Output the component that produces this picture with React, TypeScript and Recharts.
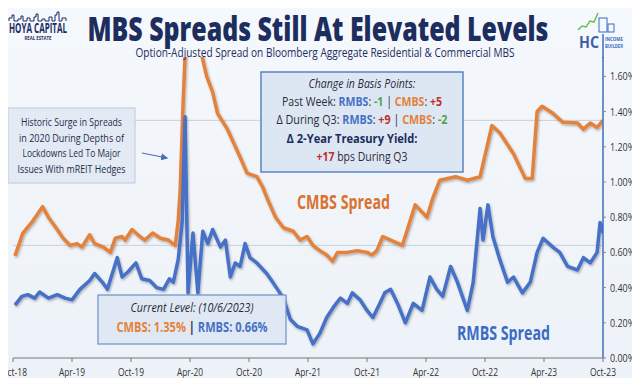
import React from 'react';
import { LineChart, Line, XAxis, YAxis, ReferenceLine } from 'recharts';

// months since Oct-2018 (fractional) and OAS in %
const cmbsMonths = [0.2, 1.0, 1.9, 3.0, 3.6, 4.5, 5.1, 5.8, 6.5, 7.0, 7.8, 8.3, 9.2, 9.9, 10.4, 11.1, 11.4, 12.1, 12.7, 13.4, 14.2, 15.0, 15.8, 16.5, 16.8, 17.0, 17.3, 17.6, 18.0, 18.6, 19.2, 19.7, 20.3, 20.8, 21.8, 23.1, 23.8, 24.8, 25.4, 25.9, 26.7, 27.5, 28.5, 29.2, 29.9, 30.5, 31.2, 31.9, 32.5, 33.0, 34.0, 35.0, 36.0, 36.5, 37.0, 37.6, 38.4, 39.2, 39.6, 40.9, 42.1, 42.7, 43.4, 45.0, 46.2, 47.5, 48.7, 49.5, 50.9, 52.1, 52.8, 53.3, 53.8, 54.9, 55.9, 57.4, 58.0, 58.7, 59.4, 60.0];
const cmbsValues = [0.58, 0.71, 0.77, 0.86, 0.8, 0.73, 0.68, 0.64, 0.65, 0.63, 0.7, 0.65, 0.63, 0.6, 0.68, 0.69, 0.67, 0.73, 0.7, 0.67, 0.71, 0.68, 0.67, 0.64, 0.78, 0.95, 1.45, 1.85, 1.95, 1.85, 1.72, 1.6, 1.51, 1.39, 1.3, 1.14, 1.05, 1.03, 0.97, 0.9, 0.8, 0.74, 0.72, 0.67, 0.69, 0.64, 0.61, 0.585, 0.55, 0.6, 0.6, 0.61, 0.6, 0.585, 0.61, 0.69, 0.67, 0.65, 0.64, 0.87, 0.8, 0.91, 1.01, 1.03, 1.01, 1.03, 1.32, 1.28, 1.16, 1.02, 1.02, 1.4, 1.43, 1.39, 1.34, 1.335, 1.3, 1.335, 1.31, 1.35];

const rmbsMonths = [0.2, 0.9, 1.5, 2.2, 2.7, 3.6, 4.5, 5.3, 6.0, 6.8, 7.8, 8.3, 9.1, 9.6, 10.6, 11.1, 11.7, 12.5, 13.1, 13.9, 14.6, 15.3, 15.9, 16.3, 16.8, 17.2, 17.5, 17.8, 18.3, 18.8, 19.3, 19.8, 20.3, 21.1, 21.6, 22.1, 22.6, 23.1, 23.6, 24.1, 24.8, 25.8, 26.3, 26.9, 27.5, 28.2, 28.9, 29.9, 30.5, 31.2, 31.9, 32.6, 33.3, 34.0, 34.5, 35.3, 36.0, 36.6, 37.3, 37.8, 38.4, 39.1, 39.9, 40.7, 41.6, 42.4, 43.1, 43.7, 44.5, 45.2, 46.2, 46.8, 47.5, 47.8, 48.3, 48.8, 49.5, 50.3, 50.9, 51.8, 52.6, 53.3, 53.9, 54.9, 55.6, 56.4, 57.4, 58.0, 58.7, 59.4, 59.7, 60.0];
const rmbsValues = [0.3, 0.35, 0.36, 0.34, 0.375, 0.34, 0.36, 0.34, 0.33, 0.39, 0.44, 0.48, 0.43, 0.39, 0.57, 0.46, 0.49, 0.54, 0.45, 0.44, 0.4, 0.39, 0.45, 0.43, 0.56, 0.77, 1.37, 0.37, 0.71, 0.37, 0.72, 0.65, 0.73, 0.63, 0.67, 0.46, 0.54, 0.52, 0.65, 0.57, 0.54, 0.48, 0.44, 0.39, 0.34, 0.22, 0.18, 0.16, 0.08, 0.14, 0.23, 0.29, 0.34, 0.31, 0.37, 0.33, 0.27, 0.23, 0.31, 0.37, 0.39, 0.31, 0.2, 0.31, 0.27, 0.46, 0.39, 0.35, 0.52, 0.43, 0.27, 0.43, 0.85, 0.67, 0.87, 0.69, 0.56, 0.43, 0.46, 0.37, 0.43, 0.6, 0.68, 0.63, 0.6, 0.52, 0.5, 0.57, 0.54, 0.6, 0.77, 0.71];

const tickMonths = [0, 6, 12, 18, 24, 30, 36, 42, 48, 54, 60];
const tickLabels = ['Oct-18', 'Apr-19', 'Oct-19', 'Apr-20', 'Oct-20', 'Apr-21', 'Oct-21', 'Apr-22', 'Oct-22', 'Apr-23', 'Oct-23'];
const yTicks = [0, 0.2, 0.4, 0.6, 0.8, 1.0, 1.2, 1.4, 1.6];
const currentLevels = [1.35, 0.64];

const cmbsData = cmbsMonths.map((m, i) => ({ m, v: cmbsValues[i] }));
const rmbsData = rmbsMonths.map((m, i) => ({ m, v: rmbsValues[i] }));

const ORANGE = '#e3823c';
const BLUE = '#4671c6';
const NAVY = '#1c2d5e';
const RED = '#c0302a';
const GREEN = '#4ea44a';
const FONT = 'Open Sans, sans-serif';

const XTick = ({ x, y, payload }: any) => {
  const i = tickMonths.indexOf(payload.value);
  return (
    <text x={Math.max(x, 14)} y={y + 12} textAnchor="middle" fontSize={10} fontFamily={FONT} fill="#333"
      textLength={26} lengthAdjust="spacingAndGlyphs">
      {tickLabels[i]}
    </text>
  );
};

const YTick = ({ x, y, payload }: any) => (
  <text x={x + 2} y={y + 4} textAnchor="start" fontSize={10} fontFamily={FONT} fill="#333"
    textLength={25} lengthAdjust="spacingAndGlyphs">
    {payload.value.toFixed(2) + '%'}
  </text>
);

const T = ({ x, y, w, size, weight = 400, italic = false, fill = '#1f2d4d', children }: any) => (
  <text x={x} y={y} textAnchor="middle" textLength={w} lengthAdjust="spacingAndGlyphs"
    fontSize={size} fontWeight={weight} fontStyle={italic ? 'italic' : 'normal'} fontFamily={FONT} fill={fill}>
    {children}
  </text>
);

const B = ({ c, children }: any) => <tspan fill={c} fontWeight={700}>{children}</tspan>;

export default function App() {
  return (
    <div style={{ position: 'relative', width: 640, height: 386, margin: -8, background: 'linear-gradient(#f5f8fc, #edf2f8)', overflow: 'hidden' }}>
      <LineChart width={640} height={386} margin={{ top: 57, right: 0, left: 13, bottom: 0 }}
        style={{ position: 'absolute', left: 0, top: 0 }}>
        <defs>
          <filter id="shadow" x="-5%" y="-5%" width="110%" height="120%">
            <feDropShadow dx="1" dy="1.5" stdDeviation="1" floodColor="#000" floodOpacity="0.3" />
          </filter>
        </defs>
        <XAxis dataKey="m" type="number" domain={[0, 60]} ticks={tickMonths} allowDataOverflow
          height={28} tick={<XTick />} tickSize={4} tickLine={{ stroke: '#777' }}
          axisLine={{ stroke: '#777' }} interval={0} />
        <YAxis orientation="right" width={37} domain={[0, 1.71]} ticks={yTicks} allowDataOverflow
          tick={<YTick />} tickSize={3} tickLine={{ stroke: '#888' }}
          axisLine={{ stroke: '#3f6cbf', strokeWidth: 1.5 }} interval={0} />
        {currentLevels.map((lv) => (
          <ReferenceLine key={lv} y={lv} stroke="#c8d0db" strokeWidth={1} />
        ))}
        <Line data={cmbsData} dataKey="v" type="linear" stroke={ORANGE} strokeWidth={3.5}
          strokeLinejoin="round" dot={false} isAnimationActive={false} filter="url(#shadow)" />
        <Line data={rmbsData} dataKey="v" type="linear" stroke={BLUE} strokeWidth={3.5}
          strokeLinejoin="round" dot={false} isAnimationActive={false} filter="url(#shadow)" />
      </LineChart>

      <svg width={640} height={386} style={{ position: 'absolute', left: 0, top: 0, pointerEvents: 'none' }}>
        <defs>
          <marker id="arr" markerWidth="6" markerHeight="6" refX="5" refY="3" orient="auto">
            <path d="M0,0 L6,3 L0,6 z" fill="#4a6fb5" />
          </marker>
        </defs>
        <rect x={1} y={1} width={638} height={384} fill="none" stroke="#5a86c5" strokeWidth={2} />

        {/* left logo */}
        <path d="M9 21 V18 H12 V15 H14 V21 H18 V19 H21 V16 H23 V21 H27 V18 H30 V21 H34 V17 H36 V14 H38 V21 H42 V19 H45 V21 H49 V17 H52 V21 H55 V15 H57 V12 H59 V21 H62 V18 H66 V21"
          fill="none" stroke={NAVY} strokeWidth={1} />
        <T x={38} y={33} w={58} size={14} weight={700} fill={NAVY}>HOYA CAPITAL</T>
        <T x={38} y={39.5} w={27} size={5.5} weight={700} fill={NAVY}>REAL ESTATE</T>

        {/* right logo */}
        <polyline points="578,30 582,26 586,27 590,21 594,22 598,13" fill="none" stroke="#6cbf4b" strokeWidth={1.5} />
        <rect x={599} y={18} width={8} height={14} fill="none" stroke="#3b6cc3" strokeWidth={1} />
        <rect x={608} y={24} width={6} height={8} fill="none" stroke="#3b6cc3" strokeWidth={1} />
        <T x={589} y={48} w={20} size={16} weight={700} fill="#3b5fa8">HC</T>
        <line x1={603} y1={34} x2={603} y2={58} stroke="#3f6cbf" strokeWidth={1.5} />
        <T x={614} y={40.5} w={18} size={4.6} weight={700} fill="#3b6cc3">INCOME</T>
        <T x={614} y={47.5} w={18} size={4.6} weight={700} fill="#3b6cc3">BUILDER</T>

        {/* titles */}
        <T x={318} y={41} w={461} size={34} weight={800} fill={NAVY}>MBS Spreads Still At Elevated Levels</T>
        <T x={325} y={56.5} w={379} size={12.5} fill={NAVY}>Option-Adjusted Spread on Bloomberg Aggregate Residential &amp; Commercial MBS</T>

        {/* left annotation */}
        <rect x={8} y={108} width={127} height={75} fill="#e1e9f3" fillOpacity={0.95} stroke="#b9c9de" />
        <T x={71.5} y={126} w={101} size={11.5}>Historic Surge in Spreads</T>
        <T x={71.5} y={141.5} w={105} size={11.5}>in 2020 During Depths of</T>
        <T x={71.5} y={157} w={98} size={11.5}>Lockdowns Led To Major</T>
        <T x={71.5} y={172.5} w={108} size={11.5}>Issues With mREIT Hedges</T>
        <line x1={142} y1={153} x2={167} y2={158} stroke="#4a6fb5" strokeWidth={1.2} markerEnd="url(#arr)" />

        {/* change box */}
        <rect x={261} y={72} width={202} height={100} fill="#dce6f2" fillOpacity={0.96} stroke="#5b84c4" strokeWidth={1.5} />
        <T x={362} y={88} w={107} size={12.5} italic fill="#2a2a3a">Change in Basis Points:</T>
        <T x={362} y={106} w={160} size={12.5} fill="#2a2a3a">
          Past Week: <B c={BLUE}>RMBS</B>: <B c={GREEN}>-1</B> | <B c={ORANGE}>CMBS</B>: <B c={RED}>+5</B>
        </T>
        <T x={362} y={124} w={171} size={12.5} fill="#2a2a3a">
          Δ During Q3: <B c={BLUE}>RMBS</B>: <B c={RED}>+9</B> | <B c={ORANGE}>CMBS</B>: <B c={GREEN}>-2</B>
        </T>
        <T x={352} y={143} w={131} size={12.5} weight={700} fill={NAVY}>Δ 2-Year Treasury Yield:</T>
        <T x={362} y={161} w={91} size={12.5} fill="#2a2a3a">
          <B c={RED}>+17</B> bps During Q3
        </T>

        {/* current level box */}
        <rect x={98} y={295} width={188} height={49} fill="#dfe8f3" fillOpacity={0.96} stroke="#6b8fc9" strokeWidth={1.2} />
        <T x={192} y={312} w={123} size={12.5} italic fill="#2a2a3a">Current Level: (10/6/2023)</T>
        <T x={192} y={332} w={151} size={13.5} weight={700} fill="#2a2a3a">
          <tspan fill={ORANGE}>CMBS: 1.35%</tspan> | <tspan fill={BLUE}>RMBS: 0.66%</tspan>
        </T>

        {/* series labels */}
        <T x={343.5} y={209} w={93} size={19} weight={700} fill="#d9722f">CMBS Spread</T>
        <T x={503.5} y={340} w={93} size={19} weight={700} fill="#3b6cc3">RMBS Spread</T>
      </svg>
    </div>
  );
}
